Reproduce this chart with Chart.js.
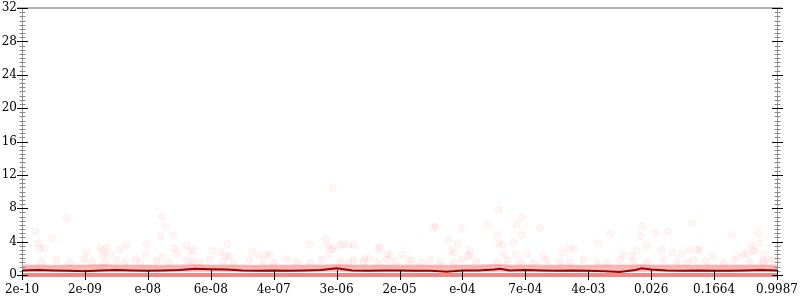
<!DOCTYPE html>
<html>
<head>
<meta charset="utf-8">
<script src="https://cdn.jsdelivr.net/npm/chart.js@4/dist/chart.umd.min.js"></script>
<style>
  html, body { margin: 0; padding: 0; background: #fff; }
  #wrap { width: 800px; height: 300px; }
</style>
</head>
<body>
<div id="wrap"><canvas id="c" width="800" height="300"></canvas></div>
<script>
// ---- data ----
const xTickLabels = ["2e-10","2e-09","e-08","6e-08","4e-07","3e-06","2e-05","e-04","7e-04","4e-03","0.026","0.1664","0.9987"];
const yMax = 32;
const yStep = 4;

// median line (x position in tick units, value)
const medianX = [0,0.25,0.5,0.75,1,1.25,1.5,1.75,2,2.25,2.5,2.75,3,3.25,3.5,3.75,4,4.25,4.5,4.75,5,5.25,5.5,5.75,6,6.25,6.5,6.75,7,7.25,7.5,7.6,7.75,8,8.25,8.5,8.75,9,9.25,9.5,9.75,9.85,10,10.25,10.5,10.75,11,11.25,11.5,11.75,12];
const medianY = [0.55,0.6,0.55,0.5,0.45,0.55,0.6,0.55,0.5,0.55,0.6,0.75,0.7,0.65,0.55,0.5,0.55,0.5,0.55,0.6,0.8,0.55,0.5,0.55,0.55,0.5,0.5,0.4,0.55,0.55,0.65,0.75,0.55,0.6,0.55,0.5,0.55,0.5,0.45,0.35,0.6,0.8,0.65,0.55,0.5,0.55,0.5,0.5,0.55,0.6,0.55];

// dense band of samples (upper edge) and its lower edge
const bandTop = [1.15,1.15,1.1,1.15,1.15,1.2,1.15,1.15,1.15,1.1,1.15,1.2,1.15,1.15,1.15,1.1,1.15,1.15,1.15,1.15,1.2,1.15,1.15,1.15,1.15,1.15,1.15,1.1,1.15,1.15,1.2,1.2,1.15,1.15,1.15,1.15,1.15,1.1,1.15,1.15,1.15,1.2,1.15,1.15,1.15,1.15,1.15,1.15,1.15,1.15,1.15];
const bandBottom = 0.4;
const zeroRow = 0;

// scattered outlier samples [x, value]
const outliers = [
 [0.71,6.8],[0.21,5.25],[0.48,4.4],[0.26,3.8],[0.28,3.2],[0.35,3.2],[2.22,7.05],[2.29,5.9],[2.41,4.8],[2.19,4.65],
 [1.98,3.7],[1.66,3.6],[1.35,3.3],[1.24,3.2],[1.56,3.1],[1.03,2.7],[1.29,2.9],[1.40,2.45],[1.30,2.35],[1.96,2.5],
 [2.41,3.2],[2.46,2.65],[2.62,3.6],[2.67,2.9],[2.73,2.9],[2.23,2.2],[3.26,3.7],[3.03,2.9],[3.16,2.7],[3.24,2.25],
 [3.29,2.25],[3.66,2.85],[3.76,2.3],[3.88,2.4],[3.93,2.5],[4.57,3.7],[4.83,4.3],[4.87,3.5],[4.93,3.1],[4.95,3.15],
 [4.88,2.4],[5.06,3.6],[5.10,3.7],[5.19,3.6],[5.27,3.6],[5.66,3.2],[5.69,3.3],[5.80,2.5],[5.86,2.35],[5.45,1.95],
 [5.53,1.95],[4.94,10.4],
 [7.58,7.85],[7.94,6.95],[7.40,6.05],[7.86,6.05],[6.57,5.85],[6.54,5.65],[6.98,5.6],[8.23,5.65],[7.56,4.8],[7.94,4.8],
 [6.78,4.25],[7.81,3.95],[7.58,3.8],[7.63,3.65],[6.92,3.8],[6.82,2.9],[6.87,2.7],[7.11,2.9],[7.12,2.4],[7.66,2.5],
 [7.85,2.5],[8.04,2.5],[8.28,2.25],[8.58,2.7],[8.69,3.1],[8.77,3.2],[9.35,4.95],[9.16,3.8],[9.86,5.85],[9.83,4.65],
 [10.06,5.05],[10.27,5.2],[10.66,6.25],[9.76,2.9],[9.93,3.55],[10.17,3.0],[10.34,2.7],[10.49,2.55],[10.61,3.05],[10.74,2.95],
 [10.77,3.15],[9.69,2.25],[9.56,2.4],[11.28,4.8],[11.70,5.05],[11.59,3.6],[11.72,3.8],[11.62,2.95],[11.64,2.85],[11.78,2.5],
 [11.86,1.9],[11.78,1.6],[10.99,2.25],[11.38,2.25],[11.47,2.5],[11.52,2.6],[6.04,2.5],[6.14,1.9],[7.09,2.25]
];

// low row of samples just above the dense band [x, value]
const lowDots = [
 [0.31,1.6],[0.55,1.8],[0.76,1.5],[0.99,1.9],[1.11,1.6],[1.32,1.5],[1.50,1.8],[1.64,1.6],[1.80,1.9],[1.88,1.5],
 [2.14,1.7],[2.33,1.5],[2.62,1.8],[2.72,1.6],[2.83,1.5],[2.99,1.9],[3.20,1.6],[3.36,1.5],[3.62,1.8],[3.84,1.6],
 [4.00,1.5],[4.21,1.9],[4.37,1.6],[4.58,1.5],[4.76,1.8],[5.06,1.6],[5.19,1.5],[5.27,1.8],[5.43,1.6],[5.66,1.5],
 [5.80,1.9],[5.93,1.6],
 [6.20,1.7],[6.36,1.5],[6.49,1.8],[6.65,1.6],[6.86,1.5],[6.99,1.9],[7.23,1.6],[7.55,1.5],[7.71,1.8],[7.92,1.6],
 [8.13,1.5],[8.34,1.8],[8.55,1.6],[8.71,1.5],[8.92,1.9],[9.14,1.6],[9.30,1.5],[9.51,1.8],[9.72,1.6],[9.93,1.5],
 [10.20,1.9],[10.41,1.6],[10.57,1.5],[10.67,1.8],[10.88,1.6],[11.15,1.5],[11.31,1.8],[11.57,1.6],[11.78,1.5],[11.94,1.8]
];

// ---- build ----
const toPts = arr => arr.map(p => ({x: p[0], y: p[1]}));
const medianPts = medianX.map((x, i) => ({x, y: medianY[i]}));
const bandPts = medianX.map((x, i) => ({x, y: bandTop[i]}));
const zeroPts = [{x: 0, y: zeroRow}, {x: xTickLabels.length - 1, y: zeroRow}];

const axisTicks = {
  id: 'axisTicks',
  afterDraw(chart) {
    const {ctx, chartArea: a, scales: {x, y}} = chart;
    ctx.save();
    // top border
    ctx.strokeStyle = '#b4b4b4';
    ctx.lineWidth = 2;
    ctx.beginPath(); ctx.moveTo(a.left - 5, a.top); ctx.lineTo(a.right + 5, a.top); ctx.stroke();
    // side axis lines
    ctx.lineWidth = 1;
    ctx.strokeStyle = '#999';
    [a.left, a.right].forEach(px => {
      ctx.beginPath(); ctx.moveTo(px + 0.5, a.top); ctx.lineTo(px + 0.5, a.bottom + 4); ctx.stroke();
    });
    // minor y ticks
    ctx.strokeStyle = '#8a8a8a';
    for (let v = 0; v <= yMax; v += 0.5) {
      if (v % yStep === 0) continue;
      const py = Math.round(y.getPixelForValue(v)) + 0.5;
      [a.left, a.right].forEach(px => {
        ctx.beginPath(); ctx.moveTo(px - 2.5, py); ctx.lineTo(px + 3.5, py); ctx.stroke();
      });
    }
    // major y ticks
    ctx.strokeStyle = '#000';
    for (let v = 0; v <= yMax; v += yStep) {
      const py = Math.round(y.getPixelForValue(v)) + 0.5;
      [a.left, a.right].forEach(px => {
        ctx.beginPath(); ctx.moveTo(px - 5, py); ctx.lineTo(px + 6, py); ctx.stroke();
      });
    }
    // x ticks
    for (let i = 0; i < xTickLabels.length; i++) {
      const px = Math.round(x.getPixelForValue(i)) + 0.5;
      ctx.beginPath(); ctx.moveTo(px, a.bottom - 5); ctx.lineTo(px, a.bottom + 5); ctx.stroke();
    }
    ctx.restore();
  }
};

const FONT = {family: "'DejaVu Serif', serif", size: 12};

new Chart(document.getElementById('c'), {
  data: {
    datasets: [
      {type: 'line', label: 'median', data: medianPts, borderColor: '#990000', borderWidth: 2,
       pointRadius: 0, tension: 0, fill: false, order: 0},
      {type: 'scatter', label: 'outliers', data: toPts(outliers), pointRadius: 3.5,
       backgroundColor: 'rgba(255,90,90,0.06)', borderColor: 'rgba(255,90,90,0.06)', borderWidth: 1, order: 1},
      {type: 'scatter', label: 'low', data: toPts(lowDots), pointRadius: 3.5,
       backgroundColor: 'rgba(255,90,90,0.08)', borderColor: 'rgba(255,90,90,0.06)', borderWidth: 1, order: 2},
      {type: 'line', label: 'band', data: bandPts, borderColor: 'rgba(245,110,110,0.35)', borderWidth: 2,
       pointRadius: 0, tension: 0, fill: {value: bandBottom}, backgroundColor: 'rgba(240,70,70,0.38)', order: 3},
      {type: 'line', label: 'zero', data: zeroPts, borderColor: 'rgba(232,55,55,0.6)', borderWidth: 4,
       pointRadius: 0, fill: false, clip: 4, order: 4}
    ]
  },
  options: {
    responsive: false,
    animation: false,
    devicePixelRatio: 1,
    layout: {padding: {top: 8, left: 0, right: 0, bottom: 0}},
    plugins: {legend: {display: false}, tooltip: {enabled: false}},
    scales: {
      x: {
        type: 'linear', min: 0, max: xTickLabels.length - 1,
        border: {display: false},
        grid: {display: false, drawTicks: false},
        ticks: {stepSize: 1, color: '#000', font: FONT, padding: 8, maxRotation: 0, autoSkip: false,
                callback: v => xTickLabels[v] !== undefined ? xTickLabels[v] : ''},
        afterFit: s => { s.height = 25; s.paddingLeft = 0; s.paddingRight = 0; }
      },
      y: {
        position: 'left', min: 0, max: yMax,
        border: {display: false},
        grid: {display: false, drawTicks: false},
        ticks: {stepSize: yStep, color: '#000', font: FONT, padding: 5},
        afterFit: s => { s.width = 22; s.paddingTop = 0; s.paddingBottom = 0; }
      },
      y2: {
        position: 'right', min: 0, max: yMax,
        border: {display: false},
        grid: {display: false, drawTicks: false},
        ticks: {display: false},
        afterFit: s => { s.width = 23; s.paddingTop = 0; s.paddingBottom = 0; }
      }
    }
  },
  plugins: [axisTicks]
});
</script>
</body>
</html>
